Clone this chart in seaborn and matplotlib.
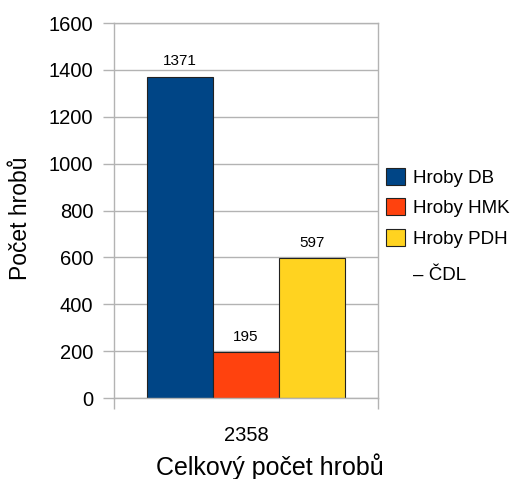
import matplotlib
matplotlib.use("Agg")
import matplotlib.pyplot as plt
import seaborn as sns
import pandas as pd

categories = ["2358"]
series = ["Hroby DB", "Hroby HMK", "Hroby PDH\n– ČDL"]
values = [1371, 195, 597]
colors = ["#004586", "#ff420e", "#ffd320"]
yticks = [0, 200, 400, 600, 800, 1000, 1200, 1400, 1600]

df = pd.DataFrame({"cat": categories * len(series), "series": series, "value": values})

sns.set_style("white")
plt.rcParams["font.family"] = ["Liberation Sans", "DejaVu Sans"]
plt.rcParams["text.color"] = "black"
plt.rcParams["axes.labelcolor"] = "black"
plt.rcParams["xtick.color"] = "black"
plt.rcParams["ytick.color"] = "black"

fig = plt.figure(figsize=(5.2, 4.79), dpi=100)
ax = fig.add_axes([114/520, 1-398/479, 264/520, 375/479])

sns.barplot(data=df, x="cat", y="value", hue="series", palette=colors,
            width=0.75, ax=ax, edgecolor="#222222", linewidth=0.8, legend=True,
            saturation=1)

grid_c = "#b3b3b3"
ax.set_ylim(0, 1600)
ax.set_xlim(-0.5, 0.5)
ax.set_yticks(yticks)
ax.set_yticklabels([str(t) for t in yticks], fontsize=14.5)
ax.yaxis.grid(True, color=grid_c, linewidth=1)
ax.set_axisbelow(True)
ax.tick_params(axis="y", length=8, color=grid_c, labelcolor="black", width=1, pad=7, direction="out", left=True)
ax.set_xticks([0])
ax.set_xticklabels(categories, fontsize=14.5)
ax.tick_params(axis="x", length=0, pad=20, labelcolor="black")
ax.set_xticks([-0.5, 0.5], minor=True)
ax.tick_params(axis="x", which="minor", length=8, color=grid_c, width=1, direction="out", bottom=True)
for s in ax.spines.values():
    s.set_color(grid_c)
    s.set_linewidth(1)

for cont in ax.containers:
    ax.bar_label(cont, padding=6, fontsize=11, color="black")

ax.set_xlabel("Celkový počet hrobů", fontsize=18, color="black")
ax.set_ylabel("Počet hrobů", fontsize=16.5, color="black")
ax.xaxis.set_label_coords(0.59, -0.148)
ax.yaxis.set_label_coords(-0.31, 0.48)

handles, labels = ax.get_legend_handles_labels()
first_lines = [lab.split("\n")[0] for lab in labels]
leg = ax.legend(handles, first_lines, loc="upper left", bbox_to_anchor=(386/520, 1-168/479),
          bbox_transform=fig.transFigure, frameon=False, fontsize=13.5,
          handlelength=1.0, handleheight=1.0, handletextpad=0.45, labelspacing=0.62,
          borderaxespad=0, borderpad=0)
for t in leg.get_texts():
    t.set_color("black")

fig.canvas.draw()
renderer = fig.canvas.get_renderer()
inv = fig.transFigure.inverted()
for lab, t in zip(labels, leg.get_texts()):
    extra = lab.split("\n")[1:]
    if extra:
        bb = t.get_window_extent(renderer)
        x0, y0 = inv.transform((bb.x0, bb.y0))
        fig.text(x0, y0 - 19/479, "\n".join(extra), fontsize=13.5, color="black",
                 ha="left", va="top")

fig.savefig("out.png", dpi=100)
